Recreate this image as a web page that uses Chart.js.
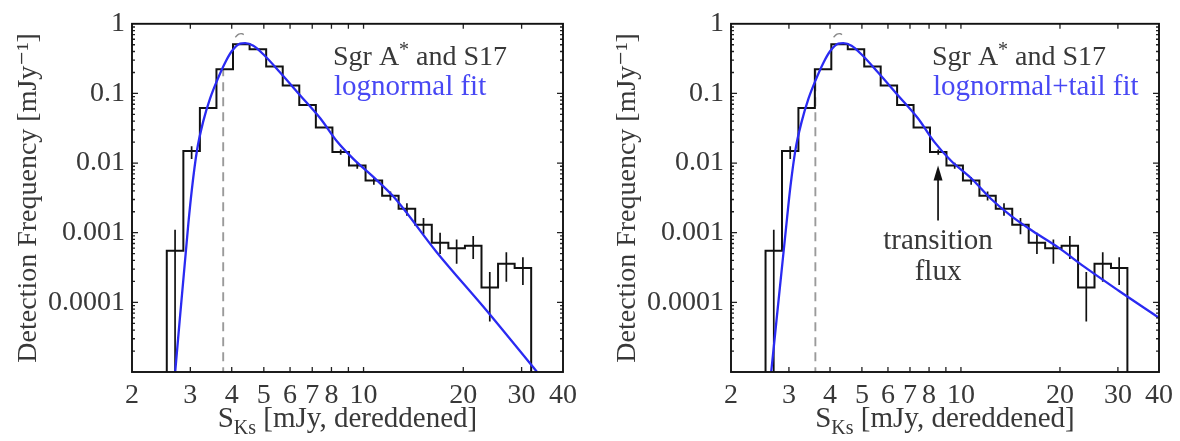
<!DOCTYPE html>
<html>
<head>
<meta charset="utf-8">
<script src="https://cdn.jsdelivr.net/npm/chart.js@4.4.1/dist/chart.umd.min.js"></script>
<style>
  html, body { margin: 0; padding: 0; background: #fff; }
  #wrap { position: relative; width: 1180px; height: 441px; }
  .panel { position: absolute; top: 0; width: 590px; height: 441px; }
</style>
</head>
<body>
<div id="wrap">
  <div class="panel" style="left:0"><canvas id="leftChart" width="590" height="441"></canvas></div>
  <div class="panel" style="left:590px"><canvas id="rightChart" width="590" height="441"></canvas></div>
</div>
<script>
// Flux histogram of Sgr A* and S17, two fits

// histogram bins [mJy] and detection frequency per bin
const binEdges = [2.547, 2.858, 3.206, 3.597, 4.036, 4.529, 5.082, 5.702, 6.397, 7.178, 8.054,
  9.036, 10.14, 11.38, 12.76, 14.32, 16.07, 18.03, 20.23, 22.70, 25.47, 28.58, 32.06];
const binFreq = [0.00055, 0.0149, 0.062, 0.223, 0.51, 0.43, 0.243, 0.13, 0.068, 0.0325, 0.0144,
  0.0092, 0.0056, 0.0034, 0.0022, 0.0013, 0.00072, 0.0006, 0.00065, 0.000163, 0.000358, 0.000311];
const errLow = [0.00001, 0.0114, null, null, null, null, null, null, null, null, 0.0132,
  0.0083, 0.0049, 0.0029, 0.00175, 0.00095, 0.000495, 0.000358, 0.00042, 0.000053, 0.000198, 0.000177];
const errHigh = [0.0011, 0.0175, null, null, null, null, null, null, null, null, 0.0157,
  0.0101, 0.0063, 0.0039, 0.00265, 0.00163, 0.001, 0.0008, 0.0009, 0.000273, 0.000523, 0.000445];

// lognormal fit (left panel)
const lognormalX = [2.70, 2.96, 3.03, 3.14, 3.28, 3.44, 3.61, 3.82, 4.00, 4.24, 4.39, 4.65, 4.99,
  5.60, 6.44, 7.40, 8.31, 9.33, 10.72, 12.31, 16.65, 23.58, 33.4];
const lognormalY = [0.00001, 0.00138, 0.00407, 0.0149, 0.0394, 0.0842, 0.152, 0.276, 0.403, 0.518,
  0.528, 0.485, 0.362, 0.200, 0.0937, 0.044, 0.0206, 0.0114, 0.00628, 0.0033, 0.00052, 0.000075, 0.00001];

// lognormal+tail fit (right panel)
const tailX = [2.65, 2.96, 3.03, 3.14, 3.28, 3.44, 3.61, 3.82, 4.00, 4.24, 4.39, 4.65, 4.99,
  5.60, 6.44, 7.40, 8.31, 9.33, 10.72, 12.4, 14.3, 16.6, 19.8, 23.8, 30.1, 40];
const tailY = [0.00001, 0.0016, 0.0045, 0.0155, 0.0394, 0.0842, 0.152, 0.276, 0.403, 0.518,
  0.528, 0.485, 0.362, 0.200, 0.0937, 0.044, 0.020, 0.0108, 0.0061, 0.0030, 0.0017, 0.00104,
  0.00061, 0.00032, 0.000148, 0.00006];

// grey dashed curve, only its top shows above the fit
const peakArcX = [4.10, 4.20, 4.30, 4.40];
const peakArcY = [0.64, 0.71, 0.72, 0.67];

// detection limits (vertical dashed lines)
const limitLeft = 3.77;
const limitRight = 3.61;
const limitTop = 0.22;

// transition flux arrow
const transitionFlux = 8.52;
const arrowTip = 0.0092;
const arrowTail = 0.0015;

// axes
const xTicks = [2, 3, 4, 5, 6, 7, 8, 9, 10, 20, 30, 40];
const xTickLabels = ["2", "3", "4", "5", "6", "7", "8", "", "10", "20", "30", "40"];
const yTicks = [0.00001, 0.0001, 0.001, 0.01, 0.1, 1];
const yTickLabels = ["", "0.0001", "0.001", "0.01", "0.1", "1"];

const FONT = "'Liberation Serif', 'DejaVu Serif', serif";
const TEXT = "#383838";
const BLUE = "#2a2af2";
const LIGHT_BLUE = "#4848f4";

Chart.defaults.font.family = FONT;
Chart.defaults.color = TEXT;

function xy(xs, ys) {
  return xs.map((x, i) => ({ x: x, y: ys[i] }));
}

function histogramPoints() {
  const last = binEdges.length - 1;
  const pts = [{ x: binEdges[0], y: 1e-7 }];
  binFreq.forEach((v, i) => pts.push({ x: binEdges[i], y: v }));
  pts.push({ x: binEdges[last], y: binFreq[binFreq.length - 1] });
  pts.push({ x: binEdges[last], y: 1e-7 });
  return pts;
}

function errorBarPoints() {
  const pts = [];
  binFreq.forEach((v, i) => {
    if (errLow[i] === null) return;
    const xc = Math.sqrt(binEdges[i] * binEdges[i + 1]);
    pts.push({ x: xc, y: errLow[i] }, { x: xc, y: errHigh[i] }, { x: xc, y: null });
  });
  return pts;
}

function drawRuns(ctx, runs, x, y) {
  let cx = x;
  runs.forEach((r) => {
    ctx.font = r.size + "px " + FONT;
    ctx.fillStyle = r.color;
    ctx.fillText(r.text, cx, y + (r.dy || 0));
    cx += ctx.measureText(r.text).width;
  });
  return cx - x;
}

function runsWidth(ctx, runs) {
  let w = 0;
  runs.forEach((r) => {
    ctx.font = r.size + "px " + FONT;
    w += ctx.measureText(r.text).width;
  });
  return w;
}

// frame, inward ticks, labels and annotations
const decorPlugin = {
  id: "decor",
  afterDatasetsDraw(chart, args, opts) {
    const { ctx, chartArea: a } = chart;
    const x = chart.scales.x;
    const y = chart.scales.y;
    ctx.save();

    // inward ticks
    ctx.strokeStyle = "#222";
    ctx.lineWidth = 1.3;
    ctx.beginPath();
    xTicks.forEach((v) => {
      const px = x.getPixelForValue(v);
      if (px <= a.left + 1 || px >= a.right - 1) return;
      ctx.moveTo(px, a.bottom); ctx.lineTo(px, a.bottom - 5);
      ctx.moveTo(px, a.top); ctx.lineTo(px, a.top + 5);
    });
    for (let d = -5; d < 0; d++) {
      for (let m = 1; m <= 9; m++) {
        const py = y.getPixelForValue(m * Math.pow(10, d));
        if (py >= a.bottom - 1) continue;
        const len = m === 1 ? 6 : 3;
        ctx.moveTo(a.left, py); ctx.lineTo(a.left + len, py);
        ctx.moveTo(a.right, py); ctx.lineTo(a.right - len, py);
      }
    }
    ctx.stroke();

    // box
    ctx.strokeStyle = "#111";
    ctx.lineWidth = 1.9;
    ctx.strokeRect(a.left, a.top, a.right - a.left, a.bottom - a.top);

    // legend-like text
    ctx.textAlign = "left";
    ctx.textBaseline = "alphabetic";
    drawRuns(ctx, [
      { text: "Sgr A", size: 28, color: TEXT },
      { text: "*", size: 20, color: TEXT, dy: -9 },
      { text: " and S17", size: 28, color: TEXT }
    ], a.left + 201, 65);
    drawRuns(ctx, [{ text: opts.fitLabel, size: 29, color: LIGHT_BLUE }], a.left + 202, 95);

    // x axis title with subscript
    const title = [
      { text: "S", size: 29, color: TEXT },
      { text: "Ks", size: 20, color: TEXT, dy: 7 },
      { text: " [mJy, dereddened]", size: 29, color: TEXT }
    ];
    const w = runsWidth(ctx, title);
    drawRuns(ctx, title, (a.left + a.right) / 2 - w / 2, 427);

    // transition flux arrow
    if (opts.arrow) {
      const px = x.getPixelForValue(transitionFlux);
      const tipY = y.getPixelForValue(arrowTip);
      const tailY = y.getPixelForValue(arrowTail);
      ctx.strokeStyle = "#111";
      ctx.fillStyle = "#111";
      ctx.lineWidth = 1.7;
      ctx.beginPath();
      ctx.moveTo(px, tailY);
      ctx.lineTo(px, tipY + 10);
      ctx.stroke();
      ctx.beginPath();
      ctx.moveTo(px, tipY);
      ctx.lineTo(px - 4.5, tipY + 15);
      ctx.lineTo(px + 4.5, tipY + 15);
      ctx.closePath();
      ctx.fill();
      ctx.textAlign = "center";
      ctx.font = "29px " + FONT;
      ctx.fillStyle = TEXT;
      ctx.fillText("transition", px, tailY + 29);
      ctx.fillText("flux", px, tailY + 60);
    }
    ctx.restore();
  }
};

function makeChart(canvasId, fitX, fitY, limit, fitLabel, arrow, padLeft, padRight) {
  const ctx = document.getElementById(canvasId);
  return new Chart(ctx, {
    type: "line",
    data: {
      datasets: [
        {
          label: "fit",
          data: xy(fitX, fitY),
          borderColor: BLUE,
          borderWidth: 2.3,
          pointRadius: 0,
          cubicInterpolationMode: "monotone"
        },
        {
          label: "histogram",
          data: histogramPoints(),
          borderColor: "#111",
          borderWidth: 2,
          pointRadius: 0,
          stepped: true
        },
        {
          label: "errors",
          data: errorBarPoints(),
          borderColor: "#111",
          borderWidth: 1.7,
          pointRadius: 0,
          spanGaps: false
        },
        {
          label: "limit",
          data: [{ x: limit, y: 1e-7 }, { x: limit, y: limitTop }],
          borderColor: "#9a9a9a",
          borderWidth: 1.9,
          borderDash: [9, 6],
          pointRadius: 0
        },
        {
          label: "arc",
          data: xy(peakArcX, peakArcY),
          borderColor: "#8a8a8a",
          borderWidth: 1.4,
          borderDash: [10, 4],
          pointRadius: 0,
          tension: 0.4
        }
      ]
    },
    options: {
      responsive: false,
      animation: false,
      devicePixelRatio: 1,
      layout: { padding: { left: padLeft, right: padRight, top: 17, bottom: 0 } },
      plugins: {
        legend: { display: false },
        tooltip: { enabled: false },
        decor: { fitLabel: fitLabel, arrow: arrow }
      },
      scales: {
        x: {
          type: "logarithmic",
          min: 2,
          max: 40,
          grid: { display: false, drawTicks: false },
          border: { display: false },
          afterBuildTicks: (scale) => { scale.ticks = xTicks.map((v) => ({ value: v })); },
          afterFit: (scale) => { scale.height = 69; },
          ticks: {
            autoSkip: false,
            maxRotation: 0,
            padding: 7,
            color: TEXT,
            font: { size: 28 },
            callback: (value) => xTickLabels[xTicks.indexOf(value)]
          }
        },
        y: {
          type: "logarithmic",
          min: 0.00001,
          max: 1,
          grid: { display: false, drawTicks: false },
          border: { display: false },
          afterBuildTicks: (scale) => { scale.ticks = yTicks.map((v) => ({ value: v })); },
          afterFit: (scale) => { scale.width = 132; },
          ticks: {
            autoSkip: false,
            padding: 7,
            color: TEXT,
            font: { size: 28 },
            callback: (value) => yTickLabels[yTicks.indexOf(value)]
          },
          title: {
            display: true,
            text: "Detection Frequency [mJy\u207B\u00B9]",
            color: TEXT,
            font: { size: 28 },
            padding: { top: 12, bottom: 0 }
          }
        }
      }
    },
    plugins: [decorPlugin]
  });
}

makeChart("leftChart", lognormalX, lognormalY, limitLeft, "lognormal fit", false, 0, 27);
makeChart("rightChart", tailX, tailY, limitRight, "lognormal+tail fit", true, 9, 19);
</script>
</body>
</html>
